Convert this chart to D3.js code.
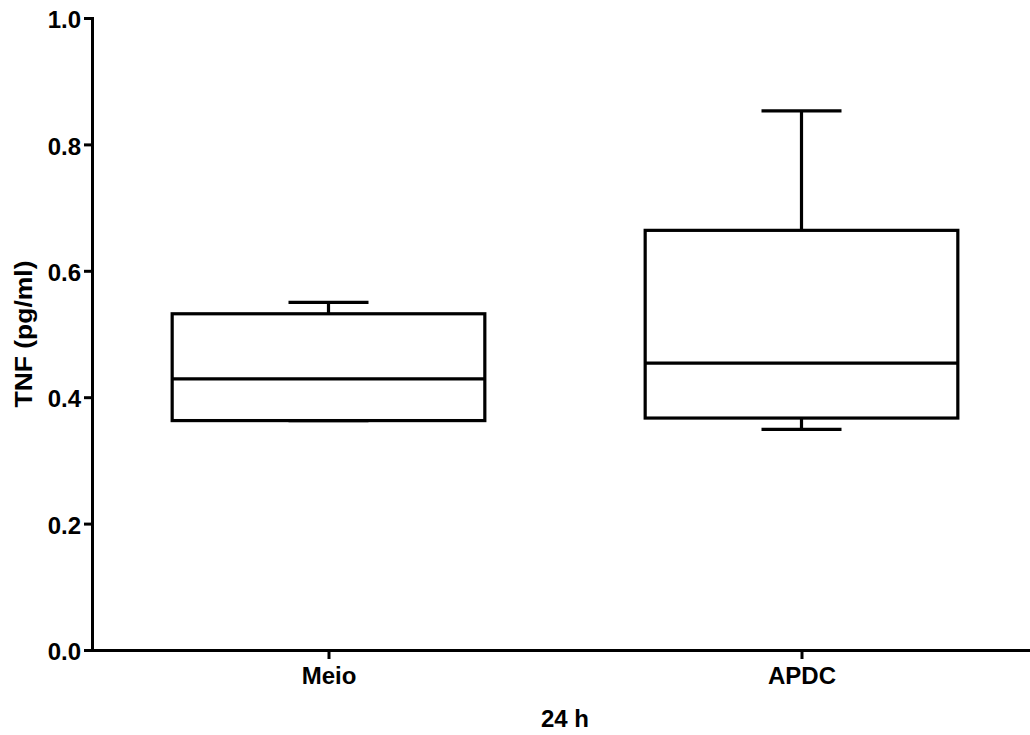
<!DOCTYPE html>
<html>
<head>
<meta charset="utf-8">
<script src="https://cdn.jsdelivr.net/npm/d3@7"></script>
<style>
  html, body { margin: 0; padding: 0; background: #fff; }
  svg { display: block; }
  text { font-family: "Liberation Sans", Arial, sans-serif; font-weight: bold; fill: #000; }
</style>
</head>
<body>
<svg id="chart" width="1030" height="735"></svg>
<script>
// Data
const categories = ["Meio", "APDC"];
const mins    = [0.363, 0.349];
const q1s     = [0.363, 0.367];
const medians = [0.429, 0.454];
const q3s     = [0.532, 0.664];
const maxs    = [0.550, 0.853];
const yTicks  = [0.0, 0.2, 0.4, 0.6, 0.8, 1.0];
const yTitle  = "TNF (pg/ml)";
const xTitle  = "24 h";

const svg = d3.select("#chart");
const mLeft = 92, mRight = 1038, mTop = 18, mBottom = 650;

const x = d3.scalePoint().domain(categories).range([mLeft, mRight]).padding(0.5);
const y = d3.scaleLinear().domain([0, 1]).range([mBottom, mTop]);
const step = x.step();
const boxW = step * 0.661;
const capW = 80;

// Axes
const yAxis = d3.axisLeft(y).tickValues(yTicks).tickFormat(d3.format(".1f")).tickSize(8).tickSizeOuter(0).tickPadding(3);
const gy = svg.append("g").attr("transform", `translate(${mLeft},0)`).call(yAxis);
const xAxis = d3.axisBottom(x).tickSize(9).tickSizeOuter(0).tickPadding(7);
const gx = svg.append("g").attr("transform", `translate(0,${mBottom})`).call(xAxis);

[gy, gx].forEach(g => {
  g.select(".domain").attr("stroke", "#000").attr("stroke-width", 3).attr("stroke-linecap", "square");
  g.selectAll(".tick line").attr("stroke", "#000").attr("stroke-width", 3);
  g.selectAll(".tick text").attr("font-size", 24).attr("font-family", "Liberation Sans, Arial, sans-serif").attr("font-weight", "bold").attr("fill", "#000");
});
gy.selectAll(".tick text").attr("dy", "0.4em");
gx.selectAll(".tick text").attr("dy", "0.75em");

// Boxes
const data = categories.map((c, i) => ({c, min: mins[i], q1: q1s[i], med: medians[i], q3: q3s[i], max: maxs[i]}));
const g = svg.append("g").attr("stroke", "#000").attr("stroke-width", 3.2).attr("fill", "none");
data.forEach(d => {
  const cx = x(d.c);
  g.append("line").attr("x1", cx).attr("x2", cx).attr("y1", y(d.q3)).attr("y2", y(d.max));
  g.append("line").attr("x1", cx).attr("x2", cx).attr("y1", y(d.q1)).attr("y2", y(d.min));
  g.append("line").attr("x1", cx - capW/2).attr("x2", cx + capW/2).attr("y1", y(d.max)).attr("y2", y(d.max));
  g.append("line").attr("x1", cx - capW/2).attr("x2", cx + capW/2).attr("y1", y(d.min)).attr("y2", y(d.min));
  g.append("rect").attr("x", cx - boxW/2).attr("width", boxW)
    .attr("y", y(d.q3)).attr("height", y(d.q1) - y(d.q3)).attr("fill", "#fff");
  g.append("line").attr("x1", cx - boxW/2).attr("x2", cx + boxW/2).attr("y1", y(d.med)).attr("y2", y(d.med));
});

// Titles
svg.append("text").attr("x", (mLeft + mRight) / 2).attr("y", 727).attr("text-anchor", "middle")
  .attr("font-size", 24).text(xTitle);
svg.append("text").attr("transform", `translate(32,${(mTop + mBottom) / 2}) rotate(-90)`)
  .attr("text-anchor", "middle").attr("font-size", 24)
  .attr("textLength", 147).attr("lengthAdjust", "spacingAndGlyphs").text(yTitle);
</script>
</body>
</html>
